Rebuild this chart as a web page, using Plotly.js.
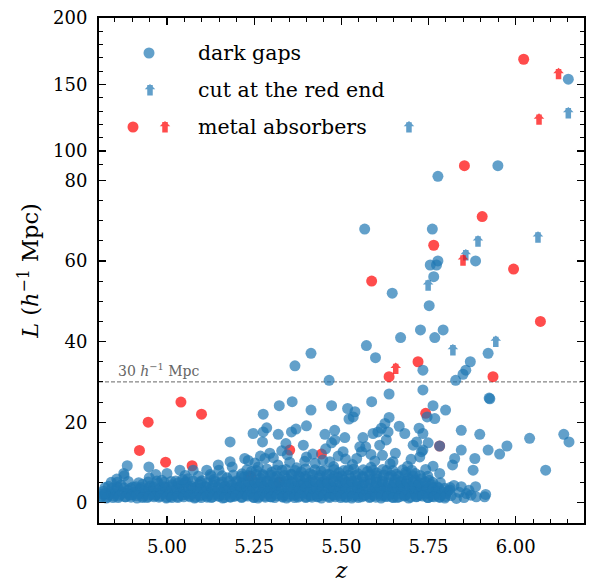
<!DOCTYPE html>
<html><head><meta charset="utf-8">
<script src="https://cdn.plot.ly/plotly-3.0.1.min.js"></script>
<style>html,body{margin:0;padding:0;background:#fff}</style>
</head><body><div id="chart" style="width:589px;height:583px"></div>
<script>
// ---------- data (z, L in h^-1 Mpc) ----------
// dense population of short dark gaps
const bandZ = [
4.811,4.826,4.847,4.860,4.881,4.893,4.914,4.931,4.943,4.965,
4.977,4.998,5.010,5.031,5.044,5.066,5.079,5.094,5.115,5.127,
5.148,5.160,5.181,5.193,5.214,5.226,5.249,5.261,5.280,5.297,
5.309,5.331,5.343,5.364,5.376,5.398,5.410,5.431,5.443,5.465,
5.477,5.498,5.511,5.530,5.546,5.559,5.581,5.593,5.614,5.626,
5.647,5.660,5.681,5.693,5.715,5.727,5.748,5.760,5.781,5.797,
4.818,4.838,4.853,4.872,4.887,4.905,4.922,4.937,4.956,4.971,
4.988,5.004,5.022,5.038,5.055,5.071,5.088,5.104,5.121,5.137,
5.155,5.170,5.188,5.204,5.220,5.238,5.255,5.271,5.288,5.304,
5.321,5.337,5.354,5.371,5.387,5.404,5.420,5.437,5.454,5.470,
5.488,5.504,5.521,5.537,5.553,5.571,5.587,5.604,5.620,5.637,
5.654,5.670,5.688,5.704,5.721,5.737,5.754,5.771,5.789,5.806,
4.832,4.868,4.902,4.930,4.952,4.975,4.993,5.015,5.036,5.051,
5.070,5.092,5.110,5.131,5.150,5.166,5.186,5.207,5.224,5.243,
5.259,5.276,5.294,5.313,5.330,5.350,5.367,5.383,5.402,5.418,
5.438,5.455,5.473,5.490,5.508,5.525,5.544,5.561,5.578,5.597,
5.615,5.631,5.650,5.667,5.684,5.702,5.719,5.738,5.756,5.775,
4.985,5.025,5.060,5.100,5.135,5.172,5.200,5.221,5.245,5.268,
5.287,5.306,5.326,5.344,5.362,5.381,5.399,5.416,5.436,5.452,
5.471,5.490,5.507,5.527,5.545,5.562,5.583,5.600,5.618,5.637,
5.655,5.673,5.692,5.711,5.730,5.752,
5.215,5.242,5.275,5.300,5.330,5.356,5.385,5.410,5.441,5.466,
5.493,5.520,5.548,5.575,5.601,5.630,5.658,5.685,5.712,
5.262,5.318,5.372,5.425,5.478,5.532,5.585,5.640,5.690,
4.815,4.833,4.850,4.866,4.884,4.899,4.917,4.934,4.950,4.968,
4.983,5.001,5.017,5.034,5.050,5.068,5.084,5.099,5.118,5.133,
5.151,5.166,5.184,5.199,5.217,5.233,5.251,5.266,5.284,5.300,
5.317,5.334,5.350,5.367,5.383,5.401,5.417,5.434,5.450,5.468,
5.483,5.501,5.516,5.534,5.551,5.567,5.584,5.600,5.617,5.634,
5.650,5.667,5.684,5.700,5.718,5.734,5.751,5.768,5.785,5.801,
4.822,4.842,4.858,4.877,4.896,4.911,4.926,4.947,4.961,4.980,
4.996,5.013,5.028,5.047,5.063,5.081,5.097,5.113,5.129,5.146,
5.163,5.179,5.196,5.212,5.229,5.247,5.263,5.279,5.296,5.312,
5.329,5.346,5.362,5.379,5.396,5.413,5.429,5.446,5.462,5.479,
5.496,5.512,5.529,5.546,5.562,5.579,5.596,5.612,5.629,5.646,
5.662,5.679,5.696,5.712,5.729,5.746,5.762,5.779,5.796,5.812,
4.857,4.889,4.919,4.946,4.971,4.992,5.012,5.033,5.054,5.075,
5.096,5.116,5.137,5.158,5.179,5.198,5.216,5.234,5.252,5.270,
5.288,5.305,5.322,5.340,5.357,5.375,5.392,5.409,5.427,5.444,
5.462,5.479,5.497,5.514,5.531,5.549,5.566,5.584,5.601,5.618,
5.636,5.653,5.671,5.688,5.706,5.723,5.741,5.762,5.784,
5.052,5.090,5.124,5.158,5.190,5.213,5.234,5.256,5.277,5.297,
5.316,5.337,5.358,5.378,5.397,5.418,5.439,5.459,5.480,5.501,
5.521,5.541,5.561,5.581,5.602,5.622,5.643,5.664,5.684,5.705,
5.726,5.748,
5.229,5.257,5.286,5.313,5.341,5.368,5.397,5.424,5.451,5.479,
5.507,5.536,5.563,5.591,5.619,5.648,5.676,5.702,
4.812,4.829,4.845,4.863,4.880,4.897,4.913,4.930,4.947,4.963,
4.981,4.999,5.014,5.031,5.048,5.064,5.082,5.098,5.115,5.131,
5.149,5.165,5.182,5.198,5.215,5.232,5.249,5.265,5.282,5.299,
5.316,5.332,5.349,5.366,5.382,5.399,5.416,5.433,5.449,5.466,
5.483,5.499,5.516,5.533,5.549,5.566,5.583,5.599,5.616,5.633,
5.649,5.666,5.683,5.699,5.716,5.733,5.749,5.766,5.783,5.799,
5.233,5.305,5.352,5.418,5.447,5.512,5.596,5.655,5.700,5.585,
5.455,5.345
];
const bandL = [
1.4,1.2,1.7,1.3,1.5,1.9,1.2,1.6,1.3,1.8,
1.4,1.2,1.6,1.3,1.9,1.5,1.2,1.7,1.4,1.3,
1.8,1.2,1.5,1.6,1.3,1.9,1.4,1.2,1.7,1.5,
1.3,1.6,1.2,1.8,1.4,1.3,1.7,1.5,1.2,1.6,
1.9,1.3,1.4,1.2,1.7,1.5,1.3,1.8,1.2,1.6,
1.4,1.3,1.7,1.2,1.5,1.9,1.3,1.6,1.4,1.2,
2.9,2.5,3.3,2.7,3.1,2.6,3.5,2.8,3.0,2.5,
3.4,2.7,3.1,2.9,2.5,3.6,2.8,3.2,2.6,3.0,
2.7,3.4,2.9,2.5,3.2,2.8,3.5,2.6,3.1,2.9,
3.3,2.5,3.0,2.8,3.6,2.7,3.2,2.9,2.5,3.4,
2.8,3.1,2.6,3.5,2.9,3.0,2.7,3.3,2.5,3.1,
2.9,3.4,2.6,3.0,2.8,3.2,2.5,3.1,2.7,2.9,
4.1,4.4,3.9,4.6,4.2,4.8,4.0,4.5,4.3,4.9,
4.1,4.6,4.0,4.4,4.8,4.2,4.5,4.0,4.7,4.3,
4.9,4.1,4.6,4.4,4.0,4.8,4.2,4.5,4.7,4.1,
4.4,4.9,4.0,4.6,4.3,4.8,4.1,4.5,4.9,4.2,
4.6,4.0,4.7,4.3,4.8,4.1,4.5,4.2,4.6,4.0,
5.6,5.4,6.0,5.5,5.8,6.2,5.5,6.4,5.7,6.1,
5.4,6.3,5.8,6.0,5.5,6.4,5.9,5.6,6.2,5.4,
6.0,6.5,5.7,6.1,5.5,6.3,5.8,6.0,5.6,6.4,
5.9,5.5,6.2,5.7,6.0,5.6,
7.2,7.8,7.0,7.6,8.1,7.1,7.7,7.3,7.9,7.0,
7.5,8.2,7.2,7.8,7.4,8.0,7.1,7.6,7.3,
8.9,9.4,8.7,9.8,9.0,9.5,8.8,9.7,9.1,
2.2,2.0,2.3,2.1,2.4,2.0,2.2,2.3,2.1,2.0,
2.4,2.2,2.0,2.3,2.1,2.2,2.4,2.0,2.3,2.1,
2.2,2.0,2.4,2.1,2.3,2.2,2.0,2.1,2.4,2.2,
2.3,2.0,2.2,2.1,2.4,2.3,2.0,2.2,2.1,2.3,
2.0,2.4,2.2,2.1,2.3,2.0,2.2,2.4,2.1,2.0,
2.3,2.2,2.1,2.4,2.0,2.3,2.2,2.1,2.0,2.3,
3.8,3.6,3.9,3.7,3.6,4.0,3.8,3.7,3.9,3.6,
3.8,4.0,3.7,3.6,3.9,3.8,3.7,4.0,3.6,3.8,
3.9,3.7,3.6,4.0,3.8,3.7,3.9,3.6,3.8,4.0,
3.7,3.9,3.6,3.8,4.0,3.7,3.6,3.9,3.8,3.7,
4.0,3.6,3.8,3.9,3.7,3.6,4.0,3.8,3.7,3.9,
3.6,3.8,4.0,3.7,3.9,3.6,3.8,3.7,3.6,3.8,
5.1,5.3,5.0,5.2,5.4,5.1,5.3,5.0,5.2,5.4,
5.1,5.0,5.3,5.2,5.4,5.1,5.0,5.3,5.2,5.1,
5.4,5.0,5.2,5.3,5.1,5.4,5.0,5.2,5.3,5.1,
5.0,5.4,5.2,5.1,5.3,5.0,5.2,5.4,5.1,5.3,
5.0,5.2,5.1,5.4,5.3,5.0,5.2,5.1,5.0,
6.8,6.6,7.0,6.7,6.9,6.6,6.8,7.0,6.7,6.9,
6.6,6.8,7.0,6.7,6.6,6.9,6.8,7.0,6.6,6.7,
6.9,6.8,6.6,7.0,6.7,6.9,6.8,6.6,7.0,6.7,
6.8,6.6,
8.2,8.0,8.4,8.1,8.3,8.0,8.4,8.2,8.1,8.3,
8.0,8.4,8.2,8.1,8.3,8.0,8.2,8.1,
1.6,1.4,1.3,1.7,1.5,1.4,1.8,1.3,1.6,1.5,
1.7,1.4,1.3,1.6,1.5,1.8,1.4,1.3,1.7,1.5,
1.6,1.3,1.4,1.8,1.5,1.7,1.3,1.6,1.4,1.5,
1.8,1.4,1.6,1.3,1.7,1.5,1.4,1.6,1.8,1.3,
1.5,1.7,1.4,1.6,1.3,1.8,1.5,1.4,1.7,1.6,
1.3,1.5,1.8,1.4,1.6,1.7,1.3,1.5,1.4,1.6,
10.5,11.2,10.1,12.1,10.6,10.9,10.4,12.3,10.8,12.0,
13.4,11.9
];
// isolated dark gaps above / beside the dense band
const gapZ = [
5.777,5.949,6.151,5.761,5.567,5.777,5.885,5.755,5.773,5.765,
5.646,5.752,5.727,5.792,5.670,5.768,5.572,5.413,5.921,5.598,
5.870,5.367,5.734,5.857,5.849,5.828,5.465,5.637,5.734,5.924,
5.926,5.587,5.322,5.359,5.472,5.763,5.518,5.413,5.799,5.276,
5.539,5.534,5.522,5.637,5.746,5.768,5.400,5.615,5.625,5.370,
5.357,5.286,5.276,5.247,5.319,5.274,5.181,5.453,5.481,5.510,
5.481,5.562,5.591,5.634,5.391,5.341,5.223,5.181,5.252,5.295,
5.281,5.329,5.395,5.491,5.505,5.570,5.558,5.610,5.629,5.147,
5.114,5.666,5.605,5.682,5.723,5.734,5.472,5.553,5.706,5.734,
5.725,5.400,5.467,5.544,5.618,5.648,5.844,5.897,6.040,6.138,
6.153,5.975,5.921,5.954,5.844,5.883,5.825,5.819,5.878,6.086,
5.782,5.749,5.716,5.730,5.742,5.763,5.782,5.844,5.885,5.859,
5.914,5.887,5.830,5.911,5.811,4.886,4.877,4.856,4.840,4.948,
4.968,4.949,5.037,4.822,4.876,5.045,5.000,5.127,5.075,5.149,
5.187,5.268,5.815,5.823,5.838,5.852,5.866,5.872
];
const gapL = [
81,89,154,67.9,67.9,60.0,60.0,59,59,56.1,
52,48.9,42.9,42.9,41,41,39,37.1,37.1,36,
35,34,32.9,32.9,31.9,30.4,30.4,27,28,26,
25.8,25.1,24.1,25.1,24.1,24.1,23.4,23,23,22,
22.6,21.3,20.8,21.2,21.3,20.9,19.1,18.5,19.7,18.3,
17.6,18.6,17.6,17.2,17,15.1,15.1,17,18,16.2,
15.6,16.2,17.2,17.6,14.3,14.7,11,10.2,9.9,12.3,
11,12.9,10.3,11.6,12.7,13.9,12.7,14.3,15.6,9.4,
8.1,19,17.6,17.2,18.5,17.2,14.9,13.9,14.3,13.1,
11.4,11.4,10.2,11,11.8,10.2,18,17,16,17,
15.1,14.1,13.1,12.1,13.1,11,11,9.4,8.1,8.1,
14.1,14.9,15.1,12.7,8.3,9.1,7.3,4,4,2.3,
2.1,1.5,1.1,1.5,3.2,9.2,6.7,5.9,5.1,8.9,
7,6.2,8.1,2.3,7.3,5.8,7.3,6.6,8.1,8.1,
8.9,11.6,1.8,4.3,2.6,1.3,3.1,1.9
];
const cutZ = [5.694,6.151,5.892,6.064,5.857,5.749,5.820,5.943];
const cutL = [118,128.6,64.9,65.9,61.5,54,37.9,40];
const metalZ = [6.023,5.853,5.904,5.765,5.994,6.071,5.587,5.720,5.637,5.935,
                5.099,5.040,4.946,4.921,4.996,5.072,5.352,5.443,5.742,5.782,
                5.322,5.240];
const metalL = [169,89,71,63.9,58,45,55,35,31.3,31.3,
                22,25,20,13,10.1,9.2,13.1,12.1,22.2,14.1,
                5.2,6.6];
const metalCutZ = [6.123,6.067,5.849,5.656];
const metalCutL = [158,123.8,60.2,33.3];

const yTicks = [0,20,40,60,80,100,150,200];
const yMinor = [5,10,15,25,30,35,45,50,55,65,70,75,90,110,120,130,140,160,170,180,190];
const xTicks = [5.00,5.25,5.50,5.75,6.00];
const legendLabels = ['dark gaps','cut at the red end','metal absorbers'];
const thresholdL = 30;

// ---------- broken y scale: linear up to 81, compressed (x0.33) above ----------
const BREAK = 81, SQUEEZE = 0.33;
const fy = L => L <= BREAK ? L : BREAK + (L - BREAK) * SQUEEZE;

const BLUE = '#1f77b4', RED = '#ff0000';
const blueA = 'rgba(31,119,180,0.7)', redA = 'rgba(255,0,0,0.7)';
const FONT = 'DejaVu Serif';

const allGapZ = bandZ.concat(gapZ);
const allGapL = bandL.concat(gapL);

const traces = [
  {type:'scatter', mode:'markers', x: metalZ, y: metalL.map(fy),
   marker:{size:11, color:redA, line:{width:0}}, hoverinfo:'skip'},
  {type:'scatter', mode:'markers', x: allGapZ, y: allGapL.map(fy),
   marker:{size:11, color:blueA, line:{width:0}}, hoverinfo:'skip'}
];

function arrowAnn(x, y, color, xref, yref) {
  return {x:x, y:y, xref:xref, yref:yref, text:'', showarrow:true,
          ax:0, ay:13, axref:'pixel', ayref:'pixel',
          arrowhead:1, arrowsize:0.32, arrowwidth:5.5, arrowcolor:color,
          opacity:0.7, yshift:6, standoff:0, startstandoff:0};
}

const annotations = [];
cutZ.forEach((z,i) => annotations.push(arrowAnn(z, fy(cutL[i]), BLUE, 'x', 'y')));
metalCutZ.forEach((z,i) => annotations.push(arrowAnn(z, fy(metalCutL[i]), RED, 'x', 'y')));

// threshold label
annotations.push({xref:'paper', yref:'y', x:0.035, y:fy(thresholdL), yshift:1,
  xanchor:'left', yanchor:'bottom', showarrow:false,
  text:'30 <i>h</i><sup>−1</sup> Mpc', font:{family:FONT, size:14, color:'#666'}});

// legend (custom)
const W = 485, H = 505;
const px = v => (v - 99) / W, py = v => (523 - v) / H;
const legY = [53, 90, 127];
legendLabels.forEach((t,i) => annotations.push({xref:'paper', yref:'paper',
  x:px(196), y:py(legY[i]), xanchor:'left', yanchor:'middle', showarrow:false,
  text:t, font:{family:FONT, size:20.5, color:'#000'}}));
annotations.push(arrowAnn(px(150), py(90), BLUE, 'paper', 'paper'));
annotations.push(arrowAnn(px(165), py(127), RED, 'paper', 'paper'));

const shapes = [
  {type:'line', xref:'paper', x0:0, x1:1, yref:'y', y0:fy(thresholdL), y1:fy(thresholdL),
   line:{color:'#666', width:1, dash:'4px,2px'}, layer:'below'},
  {type:'circle', xref:'paper', yref:'paper', xsizemode:'pixel', ysizemode:'pixel',
   xanchor:px(149), yanchor:py(53), x0:-5.5, x1:5.5, y0:-5.5, y1:5.5,
   fillcolor:blueA, line:{width:0}},
  {type:'circle', xref:'paper', yref:'paper', xsizemode:'pixel', ysizemode:'pixel',
   xanchor:px(133), yanchor:py(127), x0:-5.5, x1:5.5, y0:-5.5, y1:5.5,
   fillcolor:redA, line:{width:0}}
];

const axisCommon = {
  ticks:'inside', ticklen:7, tickwidth:1.3, tickcolor:'#000',
  showline:true, linewidth:2, linecolor:'#000', mirror:'allticks',
  showgrid:false, zeroline:false,
  tickfont:{family:FONT, size:18, color:'#000'}
};

const layout = {
  width:589, height:583, margin:{l:99, r:5, t:18, b:60},
  paper_bgcolor:'#fff', plot_bgcolor:'#fff', showlegend:false, hovermode:false,
  xaxis: Object.assign({}, axisCommon, {
    range:[4.805, 6.196], tickvals:xTicks, ticktext:xTicks.map(v => v.toFixed(2)),
    minor:{dtick:0.05, tick0:5, ticks:'inside', ticklen:4, tickwidth:1, tickcolor:'#000'},
    ticklabelstandoff:6,
    title:{text:'<i>z</i>', font:{family:FONT, size:22, color:'#000'}, standoff:10}
  }),
  yaxis: Object.assign({}, axisCommon, {
    range:[-5, fy(200)], tickvals:yTicks.map(fy), ticktext:yTicks.map(String),
    minor:{tickvals:yMinor.map(fy), ticks:'inside', ticklen:4, tickwidth:1, tickcolor:'#000'},
    ticklabelstandoff:6,
    title:{text:'<i>L</i> (<i>h</i><sup>−1</sup> Mpc)', font:{family:FONT, size:22.5, color:'#000'}, standoff:8}
  }),
  annotations: annotations,
  shapes: shapes
};

Plotly.newPlot('chart', traces, layout, {staticPlot:true, displayModeBar:false});
</script></body></html>
